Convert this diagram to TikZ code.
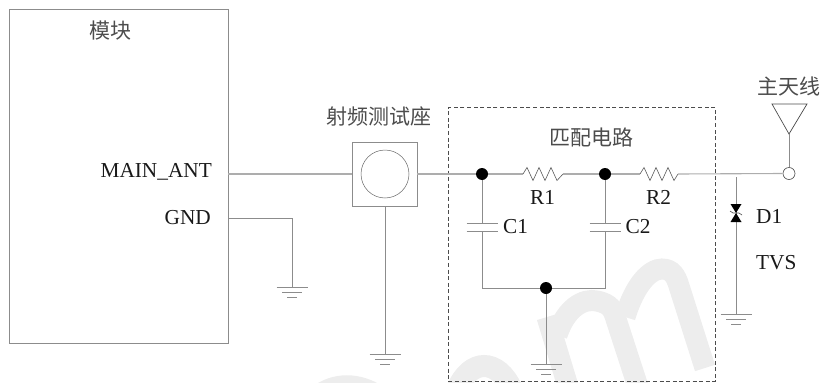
\documentclass[tikz,border=0pt]{standalone}
\usepackage{fontspec}
\setmainfont{Liberation Serif}
\newfontfamily\cjk{Noto Sans CJK SC}
\usetikzlibrary{calc}
\definecolor{wire}{gray}{0.55}
\definecolor{mwire}{gray}{0.68}
\definecolor{wmk}{gray}{0.93}
\tikzset{
  x=1pt,y=-1pt,
  wireline/.style={draw=wire,line width=0.8pt},
  mainwire/.style={draw=mwire,line width=1.1pt},
  box/.style={draw=wire,line width=0.9pt},
  dashbox/.style={draw=black!70,line width=0.7pt,dash pattern=on 4pt off 2.6pt},
  lbl/.style={font=\fontsize{21.3}{23}\selectfont,text=black!90,inner sep=0pt},
  cn/.style={font=\fontsize{21}{23}\cjk,text=black!70,inner sep=0pt},
  junction/.style={circle,fill=black,draw=none,minimum size=12pt,inner sep=0pt},
  ring/.style={circle,draw=black!70,line width=0.6pt,fill=white,inner sep=0pt},
  wmark/.style={draw=wmk,line width=21pt},
}
\newcommand{\gndsym}[1]{%
  \draw[wireline] ($(#1)+(-15.5,0)$) -- ($(#1)+(15.5,0)$);
  \draw[wireline] ($(#1)+(-10,5)$) -- ($(#1)+(10,5)$);
  \draw[wireline] ($(#1)+(-5,10)$) -- ($(#1)+(5,10)$);
}
\newcommand{\capsym}[1]{%
  \draw[wireline] ($(#1)+(-15.5,-4)$) -- ($(#1)+(15.5,-4)$);
  \draw[wireline] ($(#1)+(-15.5,4)$) -- ($(#1)+(15.5,4)$);
}
\newcommand{\ressym}[2]{%
  \draw[draw=black!65,line width=0.6pt] (#1,174) -- ++(4,-6.5) -- ++(6,13) -- ++(6,-13) -- ++(6,13) -- ++(6,-13) -- ++(6,13) -- (#2,174);
}
\begin{document}
\begin{tikzpicture}
\useasboundingbox (0,0) rectangle (820,383);
% watermark
\begin{scope}
\clip (0,0) rectangle (820,383);
\draw[wmk,line width=20pt] (318,395) .. controls (335,382) and (358,382) .. (378,395);
\draw[wmk,line width=22pt] (457,390) .. controls (470,358) and (498,358) .. (512,390);
\draw[wmark] (547,317) -- (570,393);
\draw[wmark] (557,335) .. controls (566,308) and (583,298) .. (597,301) .. controls (606,303) and (612,306) .. (615,316) -- (640,393);
\draw[wmark] (625,317) .. controls (635,284) and (650,269) .. (662,269) .. controls (672,269) and (676,276) .. (679,286) -- (705,368);
\end{scope}
% module
\node[box,draw,minimum width=219pt,minimum height=334pt,anchor=north west,inner sep=0pt] (mod) at (9,9) {};
\node[cn] (modt) at (110,31) {模块};
\node[lbl,anchor=east] (ma) at (212,172) {MAIN\_ANT};
\node[lbl,anchor=east] (gl) at (211,218) {GND};
% test connector
\node[box,draw,minimum width=65pt,minimum height=64pt,inner sep=0pt] (tb) at (384.5,174) {};
\node[circle,draw=black!60,line width=0.5pt,minimum size=48pt,inner sep=0pt] (tc) at (385,174) {};
\node[cn] (tt) at (379,116) {射频测试座};
% matching frame
\node[dashbox,draw,minimum width=267pt,minimum height=274pt,anchor=north west,inner sep=0pt] (mf) at (448,107) {};
\node[cn] (mt) at (591,137) {匹配电路};
% coordinates
\coordinate (mp) at (228,174);
\coordinate (mg) at (228,218);
\coordinate (gc) at (292,218);
\coordinate (g1) at (292,287);
\coordinate (g2) at (385,354);
\coordinate (j1) at (482,174);
\coordinate (j2) at (605,174);
\coordinate (j3) at (546,288);
\coordinate (bl) at (482,288);
\coordinate (br) at (605,288);
\coordinate (g3) at (546,364);
\coordinate (tvstop) at (736,177);
\coordinate (g4) at (736,314);
\coordinate (c1) at (482,227);
\coordinate (c2) at (605,227);
\coordinate (c1t) at (482,223);
\coordinate (c1b) at (482,231);
\coordinate (c2t) at (605,223);
\coordinate (c2b) at (605,231);
% wires
\draw[mainwire] (mp) -- (tb.west);
\draw[wireline] (mg) -- (gc) -- (g1);
\gndsym{g1}
\draw[wireline] (tb.south) ++(0.5,0) -- (g2);
\gndsym{g2}
\node[ring,minimum size=12pt] (ant) at (789,173.5) {};
\draw[mainwire] (tb.east) -- (j1) -- (523,174);
\ressym{523}{563}
\draw[mainwire] (563,174) -- (j2) -- (640,174);
\ressym{640}{678}
\draw[mainwire] (678,174) -- (ant.west);
\draw[wireline] (j1) -- (c1t);
\draw[wireline] (c1b) -- (bl) -- (br) -- (c2b);
\draw[wireline] (j2) -- (c2t);
\capsym{c1}
\capsym{c2}
\draw[wireline] (j3) -- (g3);
\gndsym{g3}
\draw[wireline] (tvstop) -- (g4);
\gndsym{g4}
% TVS
\fill[black] (730.5,204) -- (741.5,204) -- (736,213) -- cycle;
\fill[black] (730.5,222) -- (741.5,222) -- (736,213) -- cycle;
\draw[black!70,line width=0.6pt] (730,211) -- (733,213) -- (739,213) -- (742,215);
% junctions
\node[junction] (n1) at (j1) {};
\node[junction] (n2) at (j2) {};
\node[junction] (n3) at (j3) {};
% antenna
\coordinate (anta) at (772,104);
\coordinate (antb) at (807,104);
\coordinate (antc) at (789,134);
\draw[draw=black!70,line width=0.7pt,line join=miter] (anta) -- (antb) -- (antc) -- cycle;
\draw[wireline,line width=1pt] (antc) -- (ant.north);
% labels
\node[cn] (at) at (789,86) {主天线};
\node[lbl] (r1) at (542.5,197) {R1};
\node[lbl] (r2) at (658.5,197) {R2};
\node[lbl,anchor=west] (cl1) at (503,227) {C1};
\node[lbl,anchor=west] (cl2) at (625.5,227) {C2};
\node[lbl,anchor=west] (d1) at (756,216) {D1};
\node[lbl,anchor=west] (tv) at (756,263) {TVS};
\end{tikzpicture}
\end{document}
